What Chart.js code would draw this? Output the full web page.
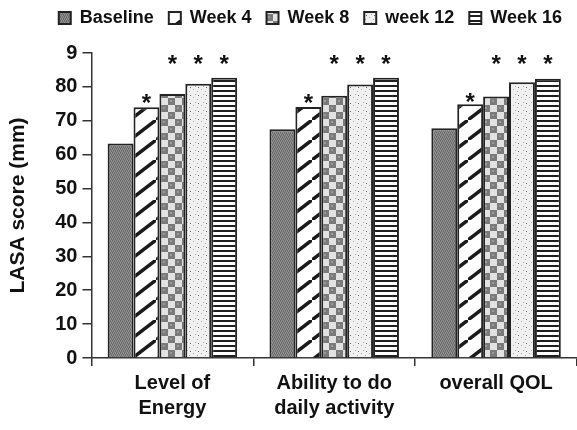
<!DOCTYPE html>
<html>
<head>
<meta charset="utf-8">
<script src="https://cdn.jsdelivr.net/npm/chart.js@4.4.0/dist/chart.umd.min.js"></script>
<style>
  html, body { margin: 0; padding: 0; background: #fff; }
  #wrap { width: 577px; height: 430px; }
</style>
</head>
<body>
<div id="wrap"><canvas id="lasaChart" width="577" height="430"></canvas></div>
<script>
// categories on the x axis (multi-line labels)
var categories = [["Level of", "Energy"], ["Ability to do", "daily activity"], ["overall QOL"]];
var seriesNames = ["Baseline", "Week 4", "Week 8", "week 12", "Week 16"];

// LASA score (mm)
var baseline = [63.3, 67.5, 67.8];
var week4 = [74.0, 74.1, 74.9];
var week8 = [77.9, 77.4, 77.2];
var week12 = [80.9, 80.7, 81.4];
var week16 = [82.7, 82.7, 82.4];

// height of the "*" marks in score units (null = no mark)
var starsBaseline = [null, null, null];
var starsWeek4 = [77.0, 77.0, 77.4];
var starsWeek8 = [88.5, 88.5, 88.5];
var starsWeek12 = [88.5, 88.5, 88.5];
var starsWeek16 = [88.5, 88.5, 88.5];

var yTickLabels = ["0", "10", "20", "30", "40", "50", "60", "70", "80", "9"];

var canvas = document.getElementById("lasaChart");
var ctx = canvas.getContext("2d");

// small helper to build a repeating fill
function makePattern(w, h, draw) {
    var c = document.createElement("canvas");
    c.width = w;
    c.height = h;
    var g = c.getContext("2d");
    draw(g, w, h);
    return ctx.createPattern(c, "repeat");
}

// baseline: dark gray stipple
var patBaseline = makePattern(4, 4, function (g) {
    var grays = [
        [0x66, 0x8a, 0x74, 0x96],
        [0x74, 0x96, 0x66, 0x8a],
        [0x94, 0x6a, 0x88, 0x70],
        [0x88, 0x70, 0x94, 0x6a]
    ];
    for (var y = 0; y < 4; y++) {
        for (var x = 0; x < 4; x++) {
            var v = grays[y][x];
            g.fillStyle = "rgb(" + v + "," + v + "," + v + ")";
            g.fillRect(x, y, 1, 1);
        }
    }
});

// week 4: diagonal black bands on white
var patWeek4 = makePattern(26, 20, function (g, w, h) {
    g.fillStyle = "#fff";
    g.fillRect(0, 0, w, h);
    g.strokeStyle = "#1a1a1a";
    g.lineWidth = 3.5;
    [[0, 0], [w, -h], [-w, h]].forEach(function (o) {
        g.beginPath();
        g.moveTo(o[0], h + o[1]);
        g.lineTo(w + o[0], o[1]);
        g.stroke();
    });
});

// week 8: gray checkerboard
var patWeek8 = makePattern(14, 14, function (g) {
    g.fillStyle = "#e2e2e2";
    g.fillRect(0, 0, 14, 14);
    g.fillStyle = "#7a7a7a";
    g.fillRect(0, 0, 7, 7);
    g.fillRect(7, 7, 7, 7);
    g.fillStyle = "#9a9a9a";
    g.fillRect(2, 2, 2, 2);
    g.fillRect(9, 9, 2, 2);
});

// week 12: light speckle
var patWeek12 = makePattern(8, 8, function (g) {
    g.fillStyle = "#f0f0f0";
    g.fillRect(0, 0, 8, 8);
    g.fillStyle = "#a8a8a8";
    g.fillRect(1, 1, 1, 1);
    g.fillRect(5, 3, 1, 1);
    g.fillRect(3, 6, 1, 1);
    g.fillStyle = "#666";
    g.fillRect(6, 7, 1, 1);
});

// week 16: horizontal black lines
var patWeek16 = makePattern(4, 5, function (g) {
    g.fillStyle = "#fff";
    g.fillRect(0, 0, 4, 5);
    g.fillStyle = "#1e1e1e";
    g.fillRect(0, 0, 4, 2);
});

var seriesData = [baseline, week4, week8, week12, week16];
var seriesFills = [patBaseline, patWeek4, patWeek8, patWeek12, patWeek16];
var seriesStars = [starsBaseline, starsWeek4, starsWeek8, starsWeek12, starsWeek16];

var datasets = seriesNames.map(function (name, i) {
    return {
        label: name,
        data: seriesData[i],
        stars: seriesStars[i],
        backgroundColor: seriesFills[i],
        borderColor: "#222",
        borderWidth: 2,
        categoryPercentage: 0.8,
        barPercentage: 1.0
    };
});

// a bit more room under the legend
var legendGap = {
    id: "legendGap",
    beforeInit: function (chart) {
        var origFit = chart.legend.fit;
        chart.legend.fit = function () {
            origFit.bind(chart.legend)();
            this.height += 16;
        };
    }
};

// draws the significance stars above the bars
var starPlugin = {
    id: "stars",
    afterDatasetsDraw: function (chart) {
        var c = chart.ctx;
        var yScale = chart.scales.y;
        c.save();
        c.fillStyle = "#111";
        c.font = "bold 24px 'Liberation Sans', Arial, sans-serif";
        c.textAlign = "center";
        c.textBaseline = "alphabetic";
        chart.data.datasets.forEach(function (ds, i) {
            var meta = chart.getDatasetMeta(i);
            ds.stars.forEach(function (v, j) {
                if (v === null) return;
                var bar = meta.data[j];
                var y = yScale.getPixelForValue(v);
                c.fillText("*", bar.x, y + 14);
            });
        });
        c.restore();
    }
};

var chart = new Chart(ctx, {
    type: "bar",
    data: {
        labels: categories,
        datasets: datasets
    },
    options: {
        responsive: false,
        animation: false,
        layout: { padding: { top: -6, right: 0, bottom: 4, left: 6 } },
        plugins: {
            legend: {
                position: "top",
                align: "end",
                labels: {
                    boxWidth: 12,
                    boxHeight: 12,
                    padding: 15,
                    color: "#111",
                    font: { family: "'Liberation Sans', Arial, sans-serif", size: 18, weight: "bold" }
                }
            },
            tooltip: { enabled: false }
        },
        scales: {
            x: {
                grid: {
                    display: true,
                    drawOnChartArea: false,
                    drawTicks: true,
                    tickLength: 8,
                    color: "#333",
                    lineWidth: 1.5
                },
                border: { display: true, color: "#333", width: 1.5 },
                ticks: {
                    color: "#111",
                    padding: 5,
                    font: { family: "'Liberation Sans', Arial, sans-serif", size: 20, weight: "bold", lineHeight: 1.25 }
                }
            },
            y: {
                min: 0,
                max: 90,
                grid: {
                    display: true,
                    drawOnChartArea: false,
                    drawTicks: true,
                    tickLength: 9,
                    color: "#333",
                    lineWidth: 1.5
                },
                border: { display: true, color: "#333", width: 1.5 },
                ticks: {
                    stepSize: 10,
                    color: "#111",
                    padding: 5,
                    font: { family: "'Liberation Sans', Arial, sans-serif", size: 20, weight: "bold" },
                    callback: function (value, index) {
                        return yTickLabels[index];
                    }
                },
                title: {
                    display: true,
                    text: "LASA score (mm)",
                    color: "#111",
                    padding: { top: 0, bottom: 19 },
                    font: { family: "'Liberation Sans', Arial, sans-serif", size: 21, weight: "bold" }
                }
            }
        }
    },
    plugins: [starPlugin, legendGap]
});
</script>
</body>
</html>
